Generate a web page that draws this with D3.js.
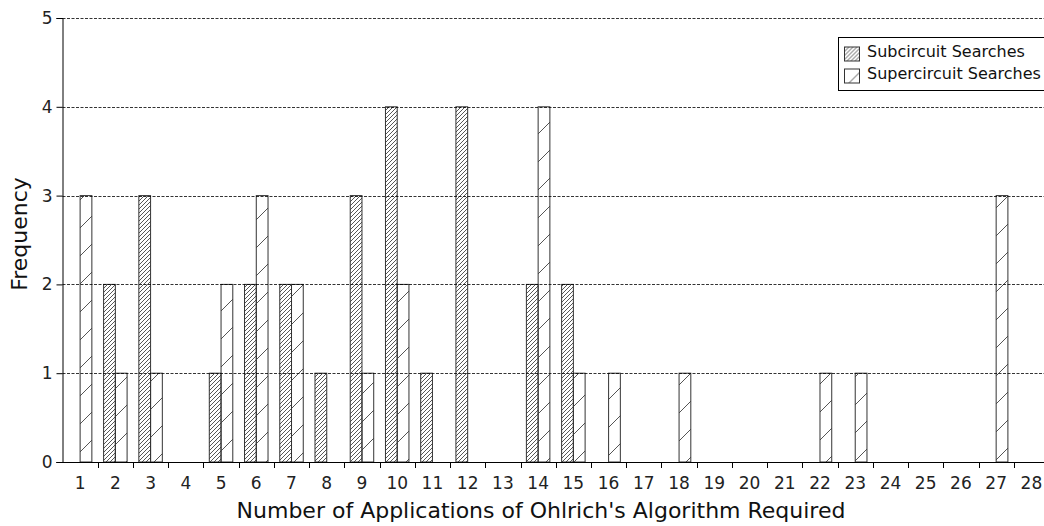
<!DOCTYPE html>
<html lang="en">
<head>
    <meta charset="UTF-8">
    <title>Ohlrich's Algorithm Histogram</title>
    <script src="https://cdn.jsdelivr.net/npm/d3@7"></script>
    <style>
        * { margin: 0; padding: 0; box-sizing: border-box; }
        body { background: #fff; width: 1044px; height: 526px; overflow: hidden; }
        svg { display: block; font-family: "DejaVu Sans", sans-serif; }
    </style>
</head>
<body>
<svg id="chart" width="1044" height="526"></svg>
<script>
    // Data
    const categories = d3.range(1, 29).map(String);
    const subcircuit   = [0,2,3,0,1,2,2,1,3,4,1,4,0,2,2,0,0,0,0,0,0,0,0,0,0,0,0,0];
    const supercircuit = [3,1,1,0,2,3,2,0,1,2,0,0,0,4,1,1,0,1,0,0,0,1,1,0,0,0,3,0];
    const yTicks = [0, 1, 2, 3, 4, 5];
    const seriesNames = ["Subcircuit Searches", "Supercircuit Searches"];

    const svg = d3.select("#chart");
    const m = { left: 62.5, right: 1049, top: 18, bottom: 462 };

    const x = d3.scaleBand().domain(categories).range([m.left, m.right]).padding(0);
    const y = d3.scaleLinear().domain([0, 5]).range([m.bottom, m.top]);

    // hatch patterns
    const defs = svg.append("defs");
    const dense = defs.append("pattern")
        .attr("id", "dense").attr("patternUnits", "userSpaceOnUse")
        .attr("width", 4).attr("height", 4);
    dense.append("path").attr("d", "M-1,1 l2,-2 M0,4 l4,-4 M3,5 l2,-2")
        .attr("stroke", "#444").attr("stroke-width", 0.9);

    const sparse = defs.append("pattern")
        .attr("id", "sparse").attr("patternUnits", "userSpaceOnUse")
        .attr("width", 28).attr("height", 28);
    sparse.append("path").attr("d", "M-2,2 l4,-4 M0,28 l28,-28 M26,30 l4,-4")
        .attr("stroke", "#555").attr("stroke-width", 1);

    const bw = x.bandwidth() / 3;
    const mid = d => x(d) + x.bandwidth() / 2;

    // bars
    svg.append("g").selectAll("rect")
        .data(categories.map((c, i) => ({ c, v: subcircuit[i] })).filter(d => d.v > 0))
        .join("rect")
        .attr("x", d => mid(d.c) - bw)
        .attr("y", d => y(d.v))
        .attr("width", bw)
        .attr("height", d => y(0) - y(d.v))
        .attr("fill", "url(#dense)")
        .attr("stroke", "#333").attr("stroke-width", 1);

    svg.append("g").selectAll("rect")
        .data(categories.map((c, i) => ({ c, v: supercircuit[i] })).filter(d => d.v > 0))
        .join("rect")
        .attr("x", d => mid(d.c))
        .attr("y", d => y(d.v))
        .attr("width", bw)
        .attr("height", d => y(0) - y(d.v))
        .attr("fill", "url(#sparse)")
        .attr("stroke", "#333").attr("stroke-width", 1);

    // gridlines (on top of bars)
    svg.append("g").selectAll("line")
        .data(yTicks.filter(t => t > 0))
        .join("line")
        .attr("x1", m.left).attr("x2", 1044)
        .attr("y1", d => Math.round(y(d)) + 0.5).attr("y2", d => Math.round(y(d)) + 0.5)
        .attr("stroke", "#000").attr("stroke-width", 0.8)
        .attr("stroke-dasharray", "3,1.5");

    // y axis
    const yAxis = svg.append("g")
        .attr("transform", `translate(${m.left},0)`)
        .call(d3.axisLeft(y).tickValues(yTicks).tickFormat(d3.format("d")).tickSize(6).tickPadding(4));
    yAxis.select(".domain").attr("stroke", "#000");
    yAxis.selectAll("text").attr("font-size", 17).attr("fill", "#222")
        .attr("font-family", "DejaVu Sans, sans-serif");

    // x axis: ticks at band boundaries, labels centered
    const xg = svg.append("g");
    xg.append("line").attr("x1", m.left - 6).attr("x2", 1044)
        .attr("y1", m.bottom + 0.5).attr("y2", m.bottom + 0.5).attr("stroke", "#000");
    xg.selectAll("line.tick")
        .data(categories)
        .join("line").attr("class", "tick")
        .attr("x1", d => Math.round(x(d) + x.bandwidth()) + 0.5)
        .attr("x2", d => Math.round(x(d) + x.bandwidth()) + 0.5)
        .attr("y1", m.bottom).attr("y2", m.bottom + 6)
        .attr("stroke", "#000");
    xg.selectAll("text")
        .data(categories)
        .join("text")
        .attr("x", d => mid(d))
        .attr("y", m.bottom + 27)
        .attr("text-anchor", "middle")
        .attr("font-size", 17).attr("fill", "#222")
        .text(d => d);

    // axis titles
    svg.append("text")
        .attr("x", 541).attr("y", 518)
        .attr("text-anchor", "middle")
        .attr("font-size", 22).attr("fill", "#111")
        .text("Number of Applications of Ohlrich's Algorithm Required");
    svg.append("text")
        .attr("transform", "translate(27,234) rotate(-90)")
        .attr("text-anchor", "middle")
        .attr("font-size", 22).attr("fill", "#111")
        .text("Frequency");

    // legend
    const lg = svg.append("g").attr("transform", "translate(838.5,37.5)");
    lg.append("rect").attr("width", 210).attr("height", 53)
        .attr("fill", "#fff").attr("stroke", "#000");
    const fills = ["url(#dense)", "url(#sparse)"];
    seriesNames.forEach((name, i) => {
        lg.append("rect")
            .attr("x", 6).attr("y", 9.5 + i * 22).attr("width", 15).attr("height", 14)
            .attr("fill", fills[i]).attr("stroke", "#333");
        lg.append("text")
            .attr("x", 28.5).attr("y", 19.5 + i * 22)
            .attr("font-size", 16).attr("fill", "#111")
            .text(name);
    });
</script>
</body>
</html>
